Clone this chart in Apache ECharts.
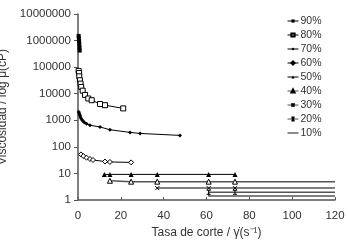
<!DOCTYPE html>
<html>
<head>
<meta charset="utf-8">
<script src="https://cdn.jsdelivr.net/npm/echarts@6/dist/echarts.min.js"></script>
<style>
  html, body { margin: 0; padding: 0; background: #fff; }
  #chart { width: 348px; height: 240px; }
</style>
</head>
<body>
<div id="chart"></div>
<script>
// shear rate (x) and viscosity (y) per concentration
const names = ['90%', '80%', '70%', '60%', '50%', '40%', '30%', '20%', '10%']

const rate90 = [0.3, 0.4, 0.5, 0.6, 0.7, 0.8]
const visc90 = [1500000, 1200000, 950000, 750000, 550000, 420000]

const rate80 = [0.3, 0.5, 0.6, 0.9, 1.2, 1.5, 2.2, 3.3, 4.8, 6.4, 10.3, 12.6, 21.1]
const visc80 = [72000, 60000, 45000, 32000, 24000, 18000, 13000, 9000, 6600, 5700, 4100, 3700, 2800]

const rate70 = [0.3, 0.5, 0.7, 0.9, 1.2, 1.5, 2, 2.5, 3, 4, 5.6, 10.3, 14.9, 24.3, 29, 47.6]
const visc70 = [2100, 1900, 1700, 1500, 1300, 1150, 1000, 900, 820, 740, 650, 560, 440, 350, 320, 270]

const rate60 = [1.4, 2.5, 4, 5.6, 7, 12.6, 14.9, 24.8]
const visc60 = [52, 45, 39, 35, 32, 28, 27, 26]

const rate50 = [12.3, 14.9, 24.8, 37, 61, 73.3]
const visc50 = [9.2, 9.2, 9.2, 9.2, 9.2, 9.2]

const rate40 = [14.9, 24.8, 37, 61, 73.3, 120]
const visc40 = [5.3, 4.9, 4.9, 4.9, 4.9, 4.9]

const rate30 = [37, 61, 73.3, 120]
const visc30 = [2.8, 2.8, 2.8, 2.8]

const rate20 = [61, 73.3, 120]
const visc20 = [1.95, 1.95, 1.95]

const rate10 = [61, 61, 73.3, 120]
const visc10 = [1.95, 1.4, 1.4, 1.4]

const xTicks = [0, 20, 40, 60, 80, 100, 120]

const symX = 'path://M0,0L10,10M10,0L0,10'
const symI = 'path://M0,0L10,0M5,0L5,10M0,10L10,10'

function pts(xs, ys) {
  return xs.map((x, i) => (x >= 120 ? { value: [x, ys[i]], symbol: 'none' } : [x, ys[i]]))
}

function line(name, xs, ys, symbol, size, opts) {
  return Object.assign({
    name: name,
    type: 'line',
    data: pts(xs, ys),
    symbol: symbol,
    symbolSize: size,
    showAllSymbol: true,
    lineStyle: { color: '#000', width: 1 },
    itemStyle: { color: '#000' },
    animation: false
  }, opts || {})
}

const grayLine = { lineStyle: { color: '#555', width: 1.5 } }
const hollow = { color: '#fff', borderColor: '#000', borderWidth: 1 }

const legendData = names.map(n => (n === '10%'
  ? { name: n, icon: 'path://M0,4L12,4L12,5L0,5Z' }
  : { name: n }))

const chart = echarts.init(document.getElementById('chart'))
chart.setOption({
  backgroundColor: '#fff',
  animation: false,
  grid: { left: 78, right: 13, top: 14, bottom: 40, outerBoundsMode: 'none' },
  legend: {
    orient: 'vertical',
    left: 282,
    top: 10,
    itemWidth: 11,
    itemHeight: 4,
    itemGap: 2,
    lineStyle: { width: 1 },
    textStyle: {
      fontFamily: 'Liberation Sans', fontSize: 10.5, lineHeight: 12, color: '#333',
      padding: [0, 0, 0, -3]
    },
    data: legendData
  },
  xAxis: {
    type: 'value',
    min: 0,
    max: 120,
    interval: 20,
    name: 'Tasa de corte / γ̇(s⁻¹)',
    nameLocation: 'middle',
    nameGap: 24,
    nameTextStyle: { fontFamily: 'Liberation Sans', fontSize: 12, color: '#333' },
    axisLine: { lineStyle: { color: '#555', width: 1.5 } },
    axisTick: { inside: true, length: 3, lineStyle: { color: '#555' } },
    axisLabel: {
      fontFamily: 'Liberation Sans', fontSize: 11.5, color: '#333', margin: 10,
      formatter: v => (xTicks.indexOf(v) >= 0 ? String(v) : '')
    },
    splitLine: { show: false }
  },
  yAxis: {
    type: 'log',
    logBase: 10,
    min: 1,
    max: 10000000,
    splitNumber: 7,
    name: 'Viscosidad / log μ(cP)',
    nameLocation: 'middle',
    nameGap: 56,
    nameTextStyle: { fontFamily: 'Liberation Sans', fontSize: 12, color: '#333' },
    axisLine: { show: true, lineStyle: { color: '#555', width: 1.5 } },
    axisTick: { show: true, length: 4, lineStyle: { color: '#555' } },
    axisLabel: {
      fontFamily: 'Liberation Sans', fontSize: 11.5, color: '#333', margin: 7,
      formatter: v => String(Math.round(v))
    },
    splitLine: { show: false }
  },
  series: [
    line('90%', rate90, visc90, 'rect', 4),
    line('80%', rate80, visc80, 'rect', 5, { itemStyle: hollow }),
    line('70%', rate70, visc70, 'diamond', 4),
    line('60%', rate60, visc60, 'diamond', 5, { itemStyle: hollow }),
    line('50%', rate50, visc50, 'triangle', 5),
    line('40%', rate40, visc40, 'triangle', 5, Object.assign({ itemStyle: hollow }, grayLine)),
    line('30%', rate30, visc30, symX, 4, Object.assign({ itemStyle: hollow }, grayLine)),
    line('20%', rate20, visc20, symI, 4, Object.assign({ itemStyle: hollow }, grayLine)),
    line('10%', rate10, visc10, 'none', 4, grayLine)
  ]
})
</script>
</body>
</html>
